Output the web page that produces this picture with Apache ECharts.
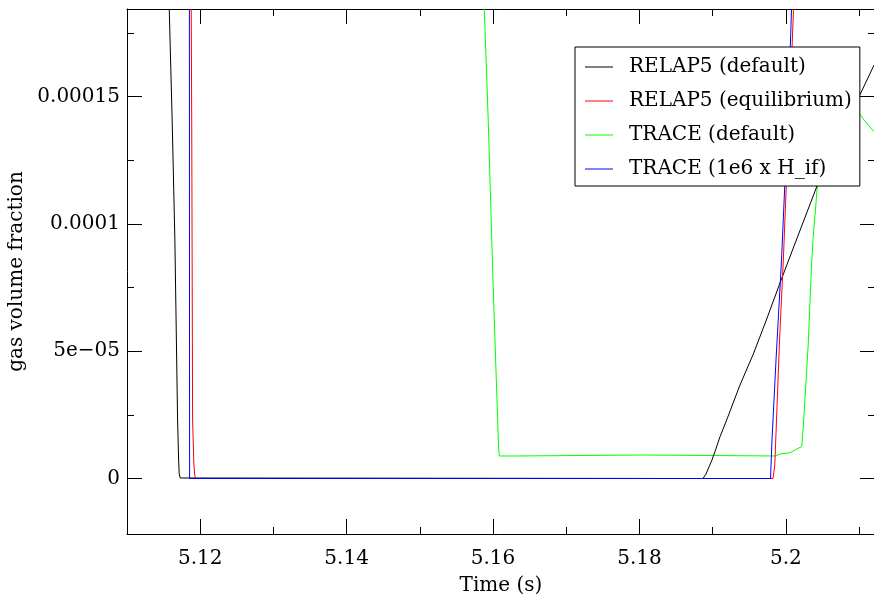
<!DOCTYPE html>
<html>
<head>
<meta charset="utf-8">
<script src="https://cdn.jsdelivr.net/npm/echarts@6/dist/echarts.min.js"></script>
<style>html,body{margin:0;padding:0;background:#fff}#c{width:874px;height:602px}</style>
</head>
<body>
<div id="c"></div>
<script>
// ---- data (time [s], gas volume fraction [-]) ----
const seriesNames = ['RELAP5 (default)', 'RELAP5 (equilibrium)', 'TRACE (default)', 'TRACE (1e6 x H_if)'];
const seriesColors = ['#000000', '#ff0000', '#00ff00', '#0000ff'];

const relap5Default = [
  [5.11577, 1.8442e-4], [5.11617, 1.4082e-4], [5.11654, 9.368e-5], [5.11691, 2.298e-5],
  [5.11705, 7.27e-6], [5.11713, 1.77e-6], [5.11727, 2e-7], [5.11743, 0],
  [5.18868, 0], [5.18909, 1.77e-6], [5.18990, 7.27e-6], [5.19031, 1.053e-5],
  [5.19100, 1.642e-5], [5.19191, 2.298e-5], [5.19373, 3.673e-5], [5.19555, 4.89e-5],
  [5.19738, 6.265e-5], [5.19919, 7.679e-5], [5.20101, 9.054e-5], [5.20421, 1.1462e-4],
  [5.20989, 1.4934e-4], [5.21204, 1.6242e-4]
];

const relap5Equilibrium = [
  [5.11877, 1.8442e-4], [5.11884, 1.4082e-4], [5.11896, 2.298e-5], [5.11914, 5.3e-6],
  [5.11925, 1.4e-6], [5.11934, 0], [5.19824, 0], [5.19848, 5.3e-6],
  [5.19872, 2.298e-5], [5.19913, 5.44e-5], [5.19965, 8.583e-5], [5.20008, 1.1725e-4],
  [5.20056, 1.4867e-4], [5.20104, 1.8442e-4]
];

const traceDefault = [
  [5.15880, 1.8442e-4], [5.15934, 1.4082e-4], [5.15999, 7.797e-5], [5.16063, 2.298e-5],
  [5.16074, 1.316e-5], [5.16085, 8.84e-6], [5.16322, 8.84e-6], [5.16327, 9.23e-6],
  [5.18044, 9.23e-6], [5.18048, 8.84e-6], [5.19858, 8.84e-6], [5.19919, 9.62e-6],
  [5.20056, 1.013e-5], [5.20216, 1.257e-5], [5.20238, 2.035e-5], [5.20306, 5.322e-5],
  [5.20350, 8.386e-5], [5.20370, 9.368e-5], [5.20429, 1.1462e-4], [5.20534, 1.4082e-4],
  [5.20671, 1.5064e-4], [5.20876, 1.4671e-4], [5.21003, 1.4345e-4], [5.21067, 1.4082e-4],
  [5.21204, 1.3622e-4]
];

const traceHif = [
  [5.11852, 1.8442e-4], [5.11855, 0], [5.19790, 0], [5.19810, 1.512e-5],
  [5.19865, 4.655e-5], [5.19940, 8.583e-5], [5.19988, 1.1725e-4], [5.20036, 1.4867e-4],
  [5.20077, 1.8442e-4]
];

const xRange = [5.11, 5.21217];
const yRange = [-2.18e-5, 1.8442e-4];
const xTitle = 'Time (s)';
const yTitle = 'gas volume fraction';

// ---- chart ----
const FONT = 'DejaVu Serif';
function gfmt(v) {
  if (Math.abs(v) < 1e-12) return '0';
  const e = Math.floor(Math.log10(Math.abs(v)) + 1e-9);
  if (e < -4) {
    const m = +(v / Math.pow(10, e)).toPrecision(6);
    return m + 'e\u2212' + String(-e).padStart(2, '0');
  }
  return String(+v.toPrecision(6));
}

const tickCommon = {
  axisLine: { show: true, onZero: false, lineStyle: { color: '#000', width: 1 } },
  axisTick: { show: true, inside: true, length: 15, lineStyle: { color: '#000', width: 1 } },
  minorTick: { show: true, splitNumber: 2, length: 7, lineStyle: { color: '#000', width: 1 } },
  splitLine: { show: false },
  minorSplitLine: { show: false }
};

function xAx(pos, showLabel) {
  return Object.assign({
    type: 'value', position: pos, min: xRange[0], max: xRange[1], splitNumber: 5,
    axisLabel: { show: showLabel, fontFamily: FONT, fontSize: 20, color: '#000', margin: 15,
                 showMinLabel: false, showMaxLabel: false },
    name: showLabel ? xTitle : '', nameLocation: 'middle', nameGap: 42,
    nameTextStyle: { fontFamily: FONT, fontSize: 20, color: '#000' }
  }, tickCommon);
}
function yAx(pos, showLabel) {
  return Object.assign({
    type: 'value', position: pos, min: yRange[0], max: yRange[1], splitNumber: 4,
    axisLabel: { show: showLabel, fontFamily: FONT, fontSize: 20, color: '#000', margin: 7,
                 showMinLabel: false, showMaxLabel: false, formatter: gfmt },
    name: showLabel ? yTitle : '', nameLocation: 'middle', nameGap: 86, nameRotate: 90,
    nameTextStyle: { fontFamily: FONT, fontSize: 20, color: '#000' }
  }, tickCommon);
}

function mkSeries(idx, data) {
  return {
    name: seriesNames[idx], type: 'line', data: data, xAxisIndex: 0, yAxisIndex: 0,
    symbol: 'none', showSymbol: false, smooth: false, clip: true,
    lineStyle: { color: seriesColors[idx], width: 1 }, itemStyle: { color: seriesColors[idx] },
    emphasis: { disabled: true }
  };
}

const chart = echarts.init(document.getElementById('c'), null, { renderer: 'canvas' });
chart.setOption({
  animation: false,
  backgroundColor: '#fff',
  grid: { left: 127, top: 9, right: -1, bottom: 68, containLabel: false, outerBoundsMode: 'none' },
  xAxis: [xAx('bottom', true), xAx('top', false)],
  yAxis: [yAx('left', true), yAx('right', false)],
  legend: {
    data: seriesNames.map(function (n) { return { name: n, icon: 'rect' }; }),
    orient: 'vertical', left: 575, top: 47,
    padding: [10, 8, 7, 10],
    itemWidth: 28, itemHeight: 1, itemGap: 14,
    backgroundColor: '#fff', borderColor: '#000', borderWidth: 1, borderRadius: 0,
    selectedMode: false,
    itemStyle: { borderWidth: 0 },
    textStyle: { fontFamily: FONT, fontSize: 20, lineHeight: 20, color: '#000', padding: [0, 0, 0, 11] }
  },
  series: [
    mkSeries(2, traceDefault),
    mkSeries(0, relap5Default),
    mkSeries(1, relap5Equilibrium),
    mkSeries(3, traceHif)
  ]
});
</script>
</body>
</html>
